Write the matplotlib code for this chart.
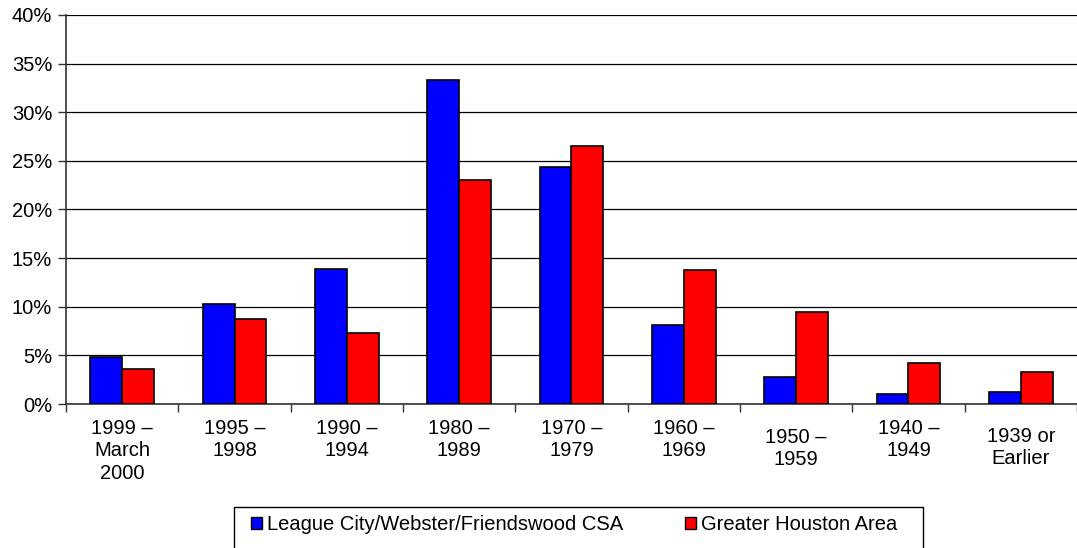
import matplotlib
matplotlib.use('Agg')
import matplotlib.pyplot as plt
import numpy as np
from matplotlib.patches import Patch, Rectangle

plt.rcParams['font.family'] = ['Liberation Sans', 'DejaVu Sans']

# Данные
categories = ['1999 –\nMarch\n2000', '1995 –\n1998', '1990 –\n1994', '1980 –\n1989', '1970 –\n1979',
              '1960 –\n1969', '1950 –\n1959', '1940 –\n1949', '1939 or\nEarlier']
league_city = [4.8, 10.25, 13.9, 33.3, 24.4, 8.15, 2.75, 1.0, 1.2]
houston = [3.65, 8.7, 7.3, 23.0, 26.5, 13.75, 9.5, 4.25, 3.3]
series_names = ['League City/Webster/Friendswood CSA', 'Greater Houston Area']
yticks = [0, 5, 10, 15, 20, 25, 30, 35, 40]

fig = plt.figure(figsize=(10.77, 5.48), dpi=100)
ax = fig.add_axes([66 / 1077, 1 - 404 / 548, 1 - 66 / 1077, (404 - 15) / 548])

x = np.arange(len(categories))
w = 0.283
ax.bar(x - w / 2, league_city, w, color='#0000ff', edgecolor='black', linewidth=1.2, zorder=3)
ax.bar(x + w / 2, houston, w, color='#ff0000', edgecolor='black', linewidth=1.2, zorder=3)

ax.set_xlim(-0.5, len(categories) - 0.5)
ax.set_ylim(0, 40)
ax.set_yticks(yticks)
ax.set_yticklabels([f'{v}%' for v in yticks], fontsize=14.5)
ax.grid(axis='y', color='black', linewidth=0.9, zorder=0)
ax.set_axisbelow(True)

# Деления оси X между группами
ax.set_xticks(np.arange(-0.5, len(categories), 1.0))
ax.set_xticklabels([])
ax.tick_params(axis='both', direction='out', length=6, width=1, color='#333333')
ax.tick_params(axis='y', pad=4)

for side in ['top', 'right']:
    ax.spines[side].set_visible(False)
ax.spines['left'].set_linewidth(1.2)
ax.spines['bottom'].set_linewidth(1.2)
ax.spines['left'].set_color('#333333')
ax.spines['bottom'].set_color('#333333')

# Подписи категорий
shift = [0, 0, 0, 0, 0, 0, 9, 0, 8]
for i, lab in enumerate(categories):
    ax.annotate(lab, xy=(i, 0), xycoords=('data', 'axes fraction'),
                xytext=(0, -15 - shift[i]), textcoords='offset pixels',
                ha='center', va='top', fontsize=14.5, linespacing=1.22)

# Легенда
handles = [Patch(facecolor='#0000ff', edgecolor='black'), Patch(facecolor='#ff0000', edgecolor='black')]
fig.legend(handles, series_names, loc='center left', bbox_to_anchor=(251 / 1077, 1 - 525 / 548),
           ncol=2, frameon=False, fontsize=14.5, handlelength=0.55, handleheight=0.55,
           handletextpad=0.22, columnspacing=3.1, borderpad=0, borderaxespad=0)
fig.add_artist(Rectangle((234 / 1077, -0.05), (923 - 234) / 1077, 0.05 + 1 - 507 / 548,
                         transform=fig.transFigure, fill=False, edgecolor='black', linewidth=1))

fig.savefig('out.png', dpi=100)
